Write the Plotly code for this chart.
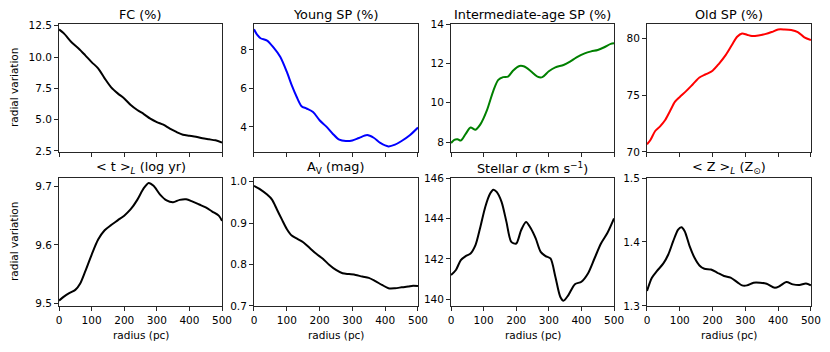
import plotly.graph_objects as go
from plotly.subplots import make_subplots

# radial profiles (radius in pc)
r_fc = [0, 15, 40, 60, 80, 100, 120, 140, 160, 180, 200, 220, 240, 260, 280, 300, 320, 340, 360, 380, 400, 420, 440, 460, 480, 500]
fc = [12.21, 11.89, 11.14, 10.69, 10.16, 9.6, 9.1, 8.3, 7.58, 7.1, 6.7, 6.17, 5.77, 5.45, 5.08, 4.81, 4.6, 4.28, 4.02, 3.8, 3.72, 3.64, 3.51, 3.43, 3.35, 3.17]

r_young = [0, 10, 20, 40, 60, 80, 100, 115, 130, 145, 160, 180, 200, 220, 240, 260, 280, 300, 320, 345, 365, 385, 410, 430, 450, 475, 500]
young = [9.08, 8.78, 8.61, 8.49, 8.12, 7.65, 6.87, 6.17, 5.57, 5.08, 4.96, 4.78, 4.35, 4.03, 3.65, 3.34, 3.27, 3.30, 3.43, 3.58, 3.44, 3.17, 2.99, 3.08, 3.27, 3.57, 3.97]

r_inter = [0, 10, 20, 30, 45, 60, 75, 90, 110, 130, 145, 160, 175, 190, 210, 225, 245, 265, 280, 300, 320, 345, 365, 385, 410, 430, 450, 470, 490, 500]
inter = [7.95, 8.12, 8.15, 8.08, 8.42, 8.74, 8.63, 8.9, 9.61, 10.62, 11.16, 11.3, 11.33, 11.63, 11.87, 11.84, 11.6, 11.33, 11.3, 11.6, 11.8, 11.92, 12.09, 12.31, 12.51, 12.61, 12.68, 12.82, 12.99, 13.02]

r_old = [0, 10, 25, 40, 55, 70, 85, 100, 120, 140, 160, 180, 200, 220, 240, 260, 275, 290, 305, 320, 340, 360, 380, 400, 420, 440, 460, 480, 500]
old = [70.68, 71.03, 71.85, 72.26, 72.79, 73.59, 74.41, 74.85, 75.38, 75.97, 76.56, 76.85, 77.15, 77.79, 78.53, 79.47, 80.15, 80.44, 80.32, 80.21, 80.26, 80.38, 80.56, 80.79, 80.79, 80.74, 80.56, 80.09, 79.85]

r_age = [0, 15, 30, 50, 65, 80, 100, 120, 140, 160, 180, 200, 220, 240, 260, 275, 290, 310, 330, 350, 370, 390, 410, 430, 450, 470, 490, 500]
age = [9.5046, 9.5114, 9.517, 9.523, 9.534, 9.554, 9.583, 9.609, 9.625, 9.634, 9.642, 9.650, 9.661, 9.677, 9.697, 9.706, 9.701, 9.686, 9.676, 9.673, 9.677, 9.678, 9.674, 9.669, 9.664, 9.657, 9.650, 9.641]

r_av = [0, 20, 40, 55, 70, 85, 100, 115, 130, 150, 170, 190, 210, 230, 250, 270, 290, 310, 330, 350, 370, 390, 410, 430, 450, 470, 485, 500]
av = [0.990, 0.981, 0.969, 0.957, 0.933, 0.909, 0.886, 0.870, 0.863, 0.854, 0.840, 0.826, 0.814, 0.799, 0.787, 0.779, 0.777, 0.775, 0.771, 0.768, 0.760, 0.751, 0.743, 0.743, 0.745, 0.747, 0.749, 0.748]

r_sig = [0, 15, 30, 45, 60, 75, 90, 105, 120, 130, 140, 155, 170, 185, 200, 215, 230, 245, 260, 275, 290, 305, 320, 335, 345, 360, 380, 400, 420, 440, 460, 480, 500]
sig = [141.2, 141.45, 141.94, 142.14, 142.27, 142.68, 143.58, 144.57, 145.23, 145.42, 145.31, 144.82, 143.83, 142.84, 142.76, 143.42, 143.83, 143.5, 143.0, 142.35, 142.14, 142.02, 141.12, 140.13, 139.93, 140.21, 140.75, 140.87, 141.28, 142.02, 142.76, 143.29, 144.0]

r_z = [0, 15, 30, 50, 65, 80, 95, 105, 115, 130, 145, 160, 175, 195, 215, 235, 255, 275, 290, 305, 325, 345, 365, 390, 405, 425, 445, 465, 485, 500]
zmet = [1.3234, 1.3442, 1.3545, 1.3665, 1.3805, 1.4013, 1.4195, 1.4231, 1.4169, 1.3935, 1.3753, 1.3634, 1.3582, 1.3571, 1.3519, 1.3468, 1.3442, 1.3374, 1.3322, 1.3322, 1.3364, 1.3364, 1.3348, 1.3286, 1.3312, 1.3374, 1.3338, 1.3327, 1.3353, 1.3322]

titles = ["FC (%)", "Young SP (%)", "Intermediate-age SP (%)", "Old SP (%)",
          "< t ><sub><i>L</i></sub> (log yr)", "A<sub>V</sub> (mag)",
          "Stellar <i>σ</i> (km s<sup>−1</sup>)", "< Z ><sub><i>L</i></sub> (Z<sub>⊙</sub>)"]

panels = [
    (r_fc, fc, "black", [2.42, 12.64], [2.5, 5.0, 7.5, 10.0, 12.5]),
    (r_young, young, "blue", [2.70, 9.35], [4, 6, 8]),
    (r_inter, inter, "green", [7.5, 14.0], [8, 10, 12, 14]),
    (r_old, old, "red", [70, 81.27], [70, 75, 80]),
    (r_age, age, "black", [9.4954, 9.7144], [9.5, 9.6, 9.7]),
    (r_av, av, "black", [0.7, 1.009], [0.7, 0.8, 0.9, 1.0]),
    (r_sig, sig, "black", [139.67, 146.0], [140, 142, 144, 146]),
    (r_z, zmet, "black", [1.3, 1.5], [1.3, 1.4, 1.5]),
]

xdom = [(0.0711, 0.2675), (0.306, 0.5036), (0.5434, 0.7398), (0.7795, 0.977)]
ydom = [(0.5682, 0.9318), (0.1307, 0.4943)]

fig = make_subplots(rows=2, cols=4)

font = "DejaVu Sans, sans-serif"
axcol = "#262626"
for i, (rx, vals, col, yr, yt) in enumerate(panels):
    row, c = i // 4 + 1, i % 4 + 1
    fig.add_trace(go.Scatter(x=rx, y=vals, mode="lines",
                             line=dict(color=col, width=2, shape="spline", smoothing=0.8),
                             showlegend=False, hoverinfo="skip"), row=row, col=c)
    n = "" if i == 0 else str(i + 1)
    fmt = ".1f" if i in (0, 4, 5, 7) else "d"
    fig.layout["xaxis" + n].update(
        domain=xdom[c - 1], range=[0, 500], tickvals=[0, 100, 200, 300, 400, 500],
        showticklabels=(row == 2), ticks="outside", ticklen=4, tickcolor=axcol,
        showline=True, linecolor=axcol, linewidth=1, mirror=True, automargin=False,
        showgrid=False, zeroline=False, tickfont=dict(size=10.5, color="black", family=font),
    )
    fig.layout["yaxis" + n].update(
        domain=ydom[row - 1], range=yr, tickvals=yt, tickformat=fmt,
        ticks="outside", ticklen=4, tickcolor=axcol,
        showline=True, linecolor=axcol, linewidth=1, mirror=True, automargin=False,
        showgrid=False, zeroline=False, tickfont=dict(size=10.5, color="black", family=font),
    )
    fig.add_annotation(text=titles[i], x=(xdom[c - 1][0] + xdom[c - 1][1]) / 2,
                       y=ydom[row - 1][1], xref="paper", yref="paper",
                       xanchor="center", yanchor="bottom", showarrow=False,
                       font=dict(size=12.8, color="black", family=font))
    if row == 2:
        fig.add_annotation(text="radius (pc)", x=(xdom[c - 1][0] + xdom[c - 1][1]) / 2,
                           y=0.048, xref="paper", yref="paper",
                           xanchor="center", yanchor="middle", showarrow=False,
                           font=dict(size=10.5, color="black", family=font))
    if c == 1:
        fig.add_annotation(text="radial variation", x=0.0169,
                           y=(ydom[row - 1][0] + ydom[row - 1][1]) / 2, xref="paper", yref="paper",
                           xanchor="center", yanchor="middle", textangle=-90, showarrow=False,
                           font=dict(size=10.5, color="black", family=font))

fig.update_layout(width=830, height=352, margin=dict(l=0, r=0, t=0, b=0),
                  plot_bgcolor="white", paper_bgcolor="white")

# drop the page's default body margin so the figure sits at the window origin
fig.write_html("out.html", config={"displayModeBar": False},
               post_script="document.body.style.margin='0';")
